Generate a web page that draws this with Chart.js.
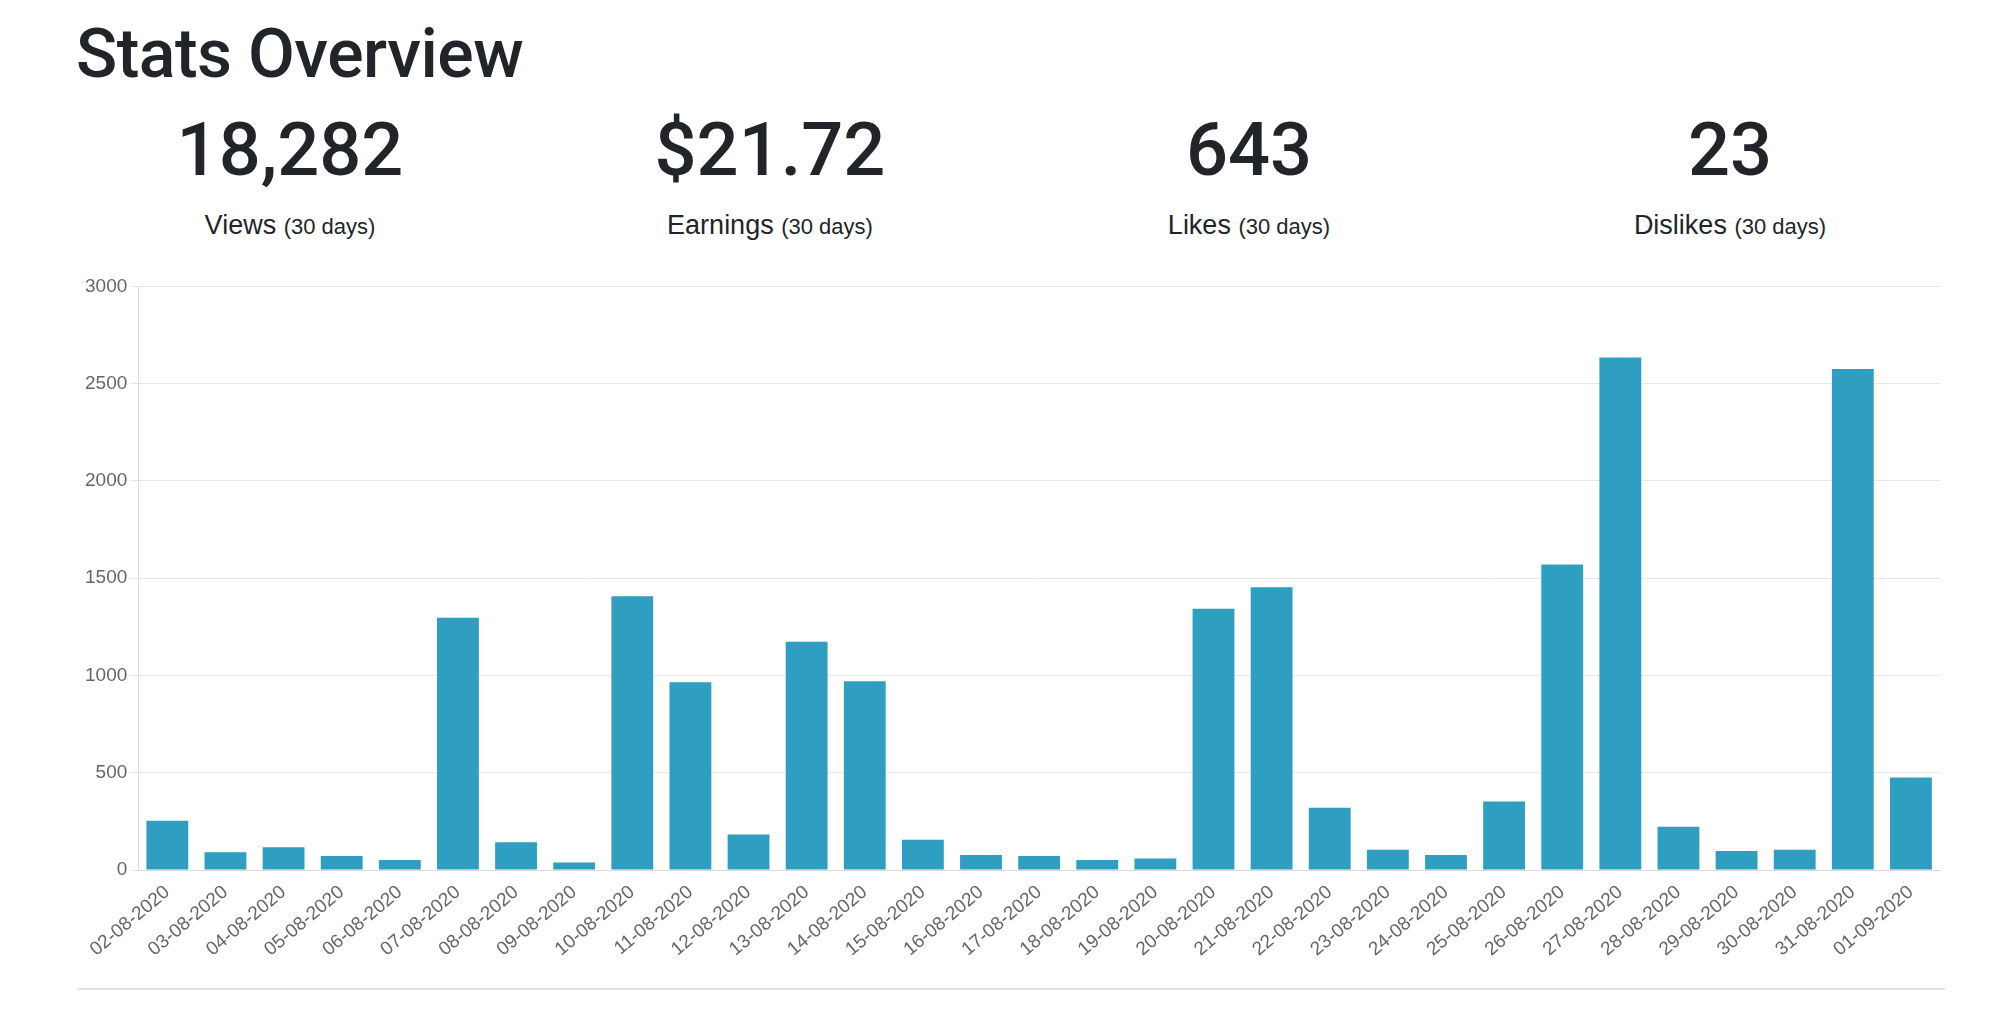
<!DOCTYPE html>
<html lang="en">
<head>
  <meta charset="UTF-8">
  <title>Stats Overview</title>
  <script src="https://cdn.jsdelivr.net/npm/chart.js"></script>
  <style>
    body { margin: 0; width: 2000px; height: 1009px; background: #fff; color: #212529;
           font-family: "Liberation Sans", Arial, sans-serif; position: relative; overflow: hidden; }
    h1 { position: absolute; left: 76px; top: 14px; margin: 0; font-size: 68px; font-weight: 500;
         font-family: Roboto, "Liberation Sans", sans-serif; letter-spacing: -0.5px; }
    .stat { position: absolute; top: 108px; width: 400px; margin-left: -200px; text-align: center; }
    .stat .num { font-size: 74px; line-height: 84px; font-weight: 500; font-family: Roboto, "Liberation Sans", sans-serif; }
    .stat .lbl { font-size: 27px; margin-top: 18px; }
    .stat .lbl small { font-size: 22px; }
    #chart-container { position: absolute; left: 70px; top: 272px; width: 1880px; height: 692px; }
    hr { position: absolute; left: 77px; top: 988px; width: 1868px; margin: 0; border: 0; border-top: 2px solid #e3e3e3; }
  </style>
</head>
<body>
  <h1>Stats Overview</h1>
  <div id="stats"></div>
  <div id="chart-container"><canvas id="myChart"></canvas></div>
  <hr>

  <script>
    // Cartes de stats en haut
    const statNames = ['Views', 'Earnings', 'Likes', 'Dislikes'];
    const statValues = ['18,282', '$21.72', '643', '23'];
    const statCenters = [290, 770, 1249, 1730];

    // Données du graphe (vues par jour)
    const days = ['02-08-2020','03-08-2020','04-08-2020','05-08-2020','06-08-2020','07-08-2020',
      '08-08-2020','09-08-2020','10-08-2020','11-08-2020','12-08-2020','13-08-2020','14-08-2020',
      '15-08-2020','16-08-2020','17-08-2020','18-08-2020','19-08-2020','20-08-2020','21-08-2020',
      '22-08-2020','23-08-2020','24-08-2020','25-08-2020','26-08-2020','27-08-2020','28-08-2020',
      '29-08-2020','30-08-2020','31-08-2020','01-09-2020'];
    const views = [254, 91, 117, 72, 52, 1297, 143, 39, 1408, 965, 183, 1174, 971, 156, 78, 72,
      52, 59, 1343, 1454, 320, 104, 78, 352, 1571, 2634, 222, 98, 104, 2575, 476];

    const statsDiv = document.getElementById('stats');
    statNames.forEach((name, i) => {
      const d = document.createElement('div');
      d.className = 'stat';
      d.style.left = statCenters[i] + 'px';
      d.innerHTML = `<div class="num">${statValues[i]}</div><div class="lbl">${name} <small>(30 days)</small></div>`;
      statsDiv.appendChild(d);
    });

    const ctx = document.getElementById('myChart').getContext('2d');
    new Chart(ctx, {
      type: 'bar',
      data: {
        labels: days,
        datasets: [{
          label: 'Views',
          data: views,
          backgroundColor: '#2e9fc0',
          categoryPercentage: 0.8,
          barPercentage: 0.9
        }]
      },
      options: {
        responsive: true,
        maintainAspectRatio: false,
        animation: false,
        layout: { padding: { left: 12, right: 10 } },
        plugins: { legend: { display: false }, tooltip: { enabled: false } },
        scales: {
          x: {
            grid: { display: false },
            border: { color: '#d9d9d9' },
            ticks: { color: '#666', font: { size: 19, family: 'Liberation Sans' },
                     minRotation: 40, maxRotation: 40, autoSkip: false }
          },
          y: {
            min: 0, max: 3000,
            ticks: { stepSize: 500, color: '#666', font: { size: 19, family: 'Liberation Sans' },
                     callback: v => String(v) },
            grid: { color: '#e6e6e6' },
            border: { color: '#d9d9d9' }
          }
        }
      }
    });
  </script>
</body>
</html>
